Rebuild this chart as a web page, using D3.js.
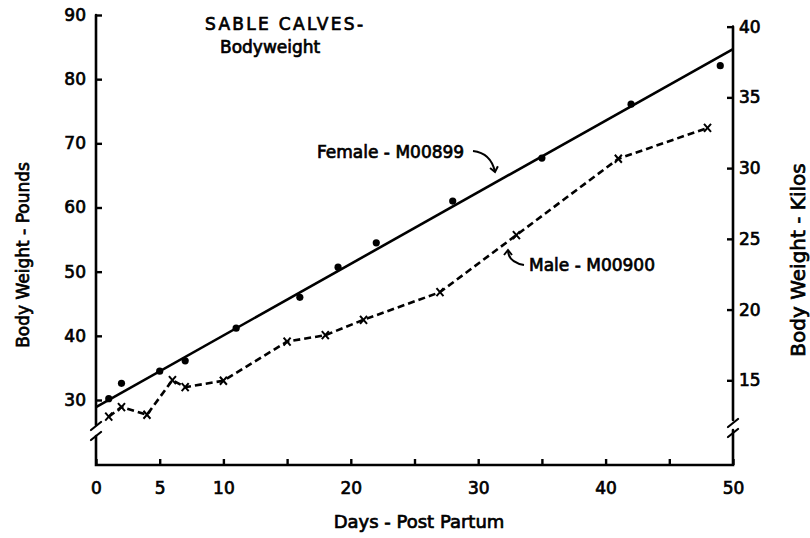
<!DOCTYPE html>
<html lang="en">
<head>
<meta charset="UTF-8">
<title>Sable Calves - Bodyweight</title>
<style>
    body { margin: 0; background: #fff; }
    svg { display: block; background: #fff; }
    text { font-family: 'DejaVu Sans', sans-serif; fill: #000; stroke: #000; stroke-width: 0.7; }
</style>
</head>
<body>
<svg id="chart" width="810" height="538"></svg>
<script src="https://cdn.jsdelivr.net/npm/d3@7"></script>
<script>
// values
const femaleDays = [1, 2, 5, 7, 11, 16, 19, 22, 28, 35, 42, 49];
const femaleLbs = [30.2, 32.6, 34.5, 36.1, 41.2, 46.0, 50.7, 54.5, 61.0, 67.7, 76.1, 82.1];
const femaleFitDays = [0, 50];
const femaleFitLbs = [28.9, 84.7];
const maleDays = [1, 2, 4, 6, 7, 10, 15, 18, 21, 27, 33, 41, 48];
const maleLbs = [27.4, 28.9, 27.7, 33.1, 32.0, 33.0, 39.1, 40.1, 42.5, 46.8, 55.7, 67.6, 72.4];

const dayTicks = [0, 5, 10, 15, 20, 25, 30, 35, 40, 45, 50];
const dayLabels = [0, 5, 10, 20, 30, 40, 50];
const poundTicks = [30, 40, 50, 60, 70, 80, 90];
const kiloTicks = [15, 20, 25, 30, 35, 40];
const LB_PER_KG = 2.20462;

const svg = d3.select("#chart");

const x = d3.scaleLinear().domain([0, 50]).range([96, 733]);
const y = d3.scaleLinear().domain([30, 90]).range([400, 15]);
const yKg = d3.scaleLinear().domain([30 / LB_PER_KG, 90 / LB_PER_KG]).range([400, 15]);

const baseY = 465;

// axes (ticks point inward)
const gLeft = svg.append("g").attr("transform", "translate(96,0)")
    .call(d3.axisLeft(y).tickValues(poundTicks).tickSize(-6).tickPadding(10));
const gRight = svg.append("g").attr("transform", "translate(733,0)")
    .call(d3.axisRight(yKg).tickValues(kiloTicks).tickSize(-6).tickPadding(6));
const gBottom = svg.append("g").attr("transform", `translate(0,${baseY})`)
    .call(d3.axisBottom(x).tickValues(dayTicks).tickSize(-6).tickPadding(17)
        .tickFormat(d => dayLabels.includes(d) ? d : ""));

[gLeft, gRight, gBottom].forEach(g => {
    g.select(".domain").remove();
    g.attr("font-family", null).attr("font-size", null);
    g.selectAll(".tick line").attr("stroke", "#000").attr("stroke-width", 2.4);
    g.selectAll(".tick text").style("font-size", "17px");
});

// axis lines drawn by hand with the breaks near the bottom
const axisLines = svg.append("g").attr("fill", "none").attr("stroke", "#000")
    .attr("stroke-width", 2.6).attr("stroke-linecap", "round");
axisLines.append("path").attr("d", `M96,${y(90)} V425 M96,436 V${baseY} H733 V430 M733,420 V${yKg(40)}`);
axisLines.append("path").attr("stroke-width", 2.2)
    .attr("d", "M91,430 L101,422 M91,440 L101,432 M728,427 L738,419 M728,437 L738,429");

// female: fitted line + dots
svg.append("line")
    .attr("x1", x(femaleFitDays[0])).attr("y1", y(femaleFitLbs[0]))
    .attr("x2", x(femaleFitDays[1])).attr("y2", y(femaleFitLbs[1]))
    .attr("stroke", "#000").attr("stroke-width", 2.6);

svg.append("g").selectAll("circle")
    .data(femaleDays)
    .join("circle")
    .attr("cx", d => x(d))
    .attr("cy", (d, i) => y(femaleLbs[i]))
    .attr("r", 3.6)
    .attr("fill", "#000");

// male: dashed line + x marks
const male = maleDays.map((d, i) => [d, maleLbs[i]]);
svg.append("path")
    .datum(male)
    .attr("fill", "none")
    .attr("stroke", "#000")
    .attr("stroke-width", 2.6)
    .attr("stroke-dasharray", "7,4")
    .attr("d", d3.line().x(d => x(d[0])).y(d => y(d[1])));

svg.append("g").selectAll("path")
    .data(male)
    .join("path")
    .attr("transform", d => `translate(${x(d[0])},${y(d[1])})`)
    .attr("d", "M-3.5,-4 L3.5,4 M3.5,-4 L-3.5,4")
    .attr("stroke", "#000")
    .attr("stroke-width", 2);

// titles
svg.append("text").attr("x", 205).attr("y", 30)
    .style("font-size", "17px").style("letter-spacing", "2.3px")
    .text("SABLE CALVES-");
svg.append("text").attr("x", 220).attr("y", 53)
    .style("font-size", "17px")
    .text("Bodyweight");

svg.append("text")
    .attr("transform", "translate(29,255) rotate(-90)")
    .attr("text-anchor", "middle")
    .style("font-size", "17px")
    .text("Body Weight - Pounds");
svg.append("text")
    .attr("transform", "translate(805,260) rotate(-90)")
    .attr("text-anchor", "middle")
    .style("font-size", "20px")
    .text("Body Weight - Kilos");
svg.append("text")
    .attr("x", 419).attr("y", 528)
    .attr("text-anchor", "middle")
    .style("font-size", "18px")
    .text("Days - Post Partum");

// series annotations with curved arrows
svg.append("defs").append("marker")
    .attr("id", "head")
    .attr("viewBox", "-1 -5 8 10")
    .attr("refX", 5).attr("refY", 0)
    .attr("markerWidth", 8).attr("markerHeight", 10)
    .attr("markerUnits", "userSpaceOnUse")
    .attr("orient", "auto")
    .append("path")
    .attr("d", "M0,-4 L5,0 L0,4")
    .attr("fill", "none").attr("stroke", "#000").attr("stroke-width", 2);

svg.append("text").attr("x", 317).attr("y", 158)
    .style("font-size", "17px")
    .text("Female - M00899");
svg.append("path")
    .attr("d", "M473,151 Q491,153 495,172")
    .attr("fill", "none").attr("stroke", "#000").attr("stroke-width", 2)
    .attr("marker-end", "url(#head)");

svg.append("text").attr("x", 529).attr("y", 271)
    .style("font-size", "17px")
    .text("Male - M00900");
svg.append("path")
    .attr("d", "M524,265 Q508,262 508,250")
    .attr("fill", "none").attr("stroke", "#000").attr("stroke-width", 2)
    .attr("marker-end", "url(#head)");
</script>
</body>
</html>
